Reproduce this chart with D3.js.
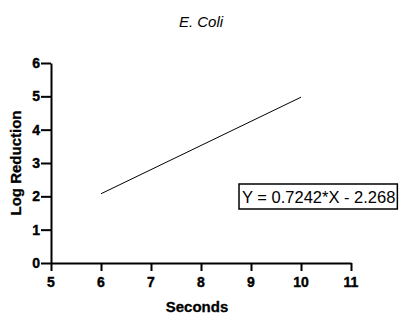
<!DOCTYPE html>
<html>
<head>
<meta charset="utf-8">
<script src="https://cdn.jsdelivr.net/npm/d3@7"></script>
<style>
	body { margin: 0; background: #fff; }
	svg { font-family: Arial, "Liberation Sans", sans-serif; }
	.tick-label { font-weight: bold; font-size: 14px; fill: #000; stroke: #000; stroke-width: 0.4px; }
	.bold-label { font-weight: bold; font-size: 15px; stroke: #000; stroke-width: 0.3px; }
</style>
</head>
<body>
<svg id="chart" width="401" height="314"></svg>
<script>
	var title = "E. Coli";
	var xTicks = [ 5, 6, 7, 8, 9, 10, 11 ];
	var yTicks = [ 0, 1, 2, 3, 4, 5, 6 ];
	var fitX = [ 6, 10 ];
	var slope = 0.7242;
	var intercept = -2.268;
	var equation = "Y = 0.7242*X - 2.268";

	var svg = d3.select( "#chart" );

	var margin = { top: 63, left: 51, right: 50, bottom: 51 };
	var size = { width: 401 - margin.left - margin.right, height: 314 - margin.top - margin.bottom };

	var scale = {
		x: d3.scaleLinear().domain( [ 5, 11 ] ).range( [ 0, size.width ] ),
		y: d3.scaleLinear().domain( [ 0, 6 ] ).range( [ size.height, 0 ] )
	};

	var root = svg.append( "g" )
		.attr( "transform", "translate(" + margin.left + "," + margin.top + ")" );

	var xAxis = root.append( "g" )
		.attr( "transform", "translate(0," + size.height + ")" )
		.call( d3.axisBottom( scale.x ).tickValues( xTicks ).tickFormat( "" ).tickSize( 8 ).tickSizeOuter( 0 ) );

	var yAxis = root.append( "g" )
		.call( d3.axisLeft( scale.y ).tickValues( yTicks ).tickFormat( "" ).tickSize( 10 ).tickSizeOuter( 0 ) );

	[ xAxis, yAxis ].forEach( function( axis ) {
		axis.select( ".domain" ).attr( "stroke", "#000" ).attr( "stroke-width", 2 );
		axis.selectAll( ".tick line" ).attr( "stroke", "#000" ).attr( "stroke-width", 2 );
		axis.selectAll( ".tick text" ).remove();
	} );

	// tick labels
	root.append( "g" )
		.selectAll( "text" )
		.data( xTicks )
		.enter()
		.append( "text" )
		.attr( "class", "tick-label" )
		.attr( "x", function( d ) { return scale.x( d ); } )
		.attr( "y", size.height + 24 )
		.attr( "text-anchor", "middle" )
		.text( function( d ) { return d; } );

	root.append( "g" )
		.selectAll( "text" )
		.data( yTicks )
		.enter()
		.append( "text" )
		.attr( "class", "tick-label" )
		.attr( "x", -11 )
		.attr( "y", function( d ) { return scale.y( d ); } )
		.attr( "dy", "0.35em" )
		.attr( "text-anchor", "end" )
		.text( function( d ) { return d; } );

	var line = d3.line()
		.x( function( d ) { return scale.x( d ); } )
		.y( function( d ) { return scale.y( slope * d + intercept ); } );

	root.append( "path" )
		.datum( fitX )
		.attr( "d", line )
		.attr( "fill", "none" )
		.attr( "stroke", "#000" )
		.attr( "stroke-width", 1 );

	svg.append( "text" )
		.attr( "x", 201 )
		.attr( "y", 27 )
		.attr( "text-anchor", "middle" )
		.style( "font-size", "15px" )
		.style( "font-style", "italic" )
		.text( title );

	svg.append( "text" )
		.attr( "class", "bold-label" )
		.attr( "x", 197 )
		.attr( "y", 312 )
		.attr( "text-anchor", "middle" )
		.text( "Seconds" );

	svg.append( "text" )
		.attr( "class", "bold-label" )
		.attr( "transform", "translate(21," + ( margin.top + size.height / 2 ) + ") rotate(-90)" )
		.attr( "text-anchor", "middle" )
		.text( "Log Reduction" );

	// equation box
	var eq = svg.append( "g" );
	var eqText = eq.append( "text" )
		.attr( "x", 242 )
		.attr( "y", 203 )
		.style( "font-size", "16.5px" )
		.text( equation );
	var bb = eqText.node().getBBox();
	eq.insert( "rect", "text" )
		.attr( "x", bb.x - 3 )
		.attr( "y", 184 )
		.attr( "width", bb.width + 5 )
		.attr( "height", 25 )
		.attr( "fill", "#fff" )
		.attr( "stroke", "#000" )
		.attr( "stroke-width", 1.5 );
</script>
</body>
</html>
